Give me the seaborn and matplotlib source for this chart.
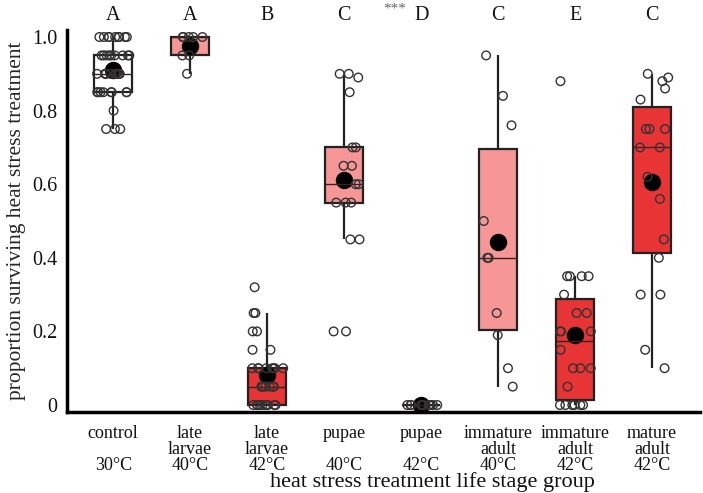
import numpy as np
import pandas as pd
import seaborn as sns
import matplotlib.pyplot as plt

# ---- data ----
group_labels = ["control\n\n30°C", "late\nlarvae\n40°C", "late\nlarvae\n42°C",
                "pupae\n\n40°C", "pupae\n\n42°C", "immature\nadult\n40°C",
                "immature\nadult\n42°C", "mature\nadult\n42°C"]
letters = ["A", "A", "B", "C", "D", "C", "E", "C"]

control_30 = [0.75, 0.75, 0.75, 0.8] + [0.85] * 8 + [0.9] * 10 + [0.95] * 9 + [1.0] * 9
late_larvae_40 = [0.9, 0.95, 0.95, 1.0, 1.0, 1.0, 1.0, 1.0]
late_larvae_42 = [0.0] * 10 + [0.05] * 8 + [0.1] * 8 + [0.15, 0.15, 0.2, 0.2, 0.25, 0.25, 0.32]
pupae_40 = [0.2, 0.2, 0.45, 0.45, 0.55, 0.55, 0.55, 0.6, 0.6, 0.65, 0.65, 0.7, 0.7,
            0.85, 0.89, 0.9, 0.9]
pupae_42 = [0.0] * 10
immature_adult_40 = [0.05, 0.1, 0.19, 0.25, 0.4, 0.4, 0.5, 0.76, 0.84, 0.95]
immature_adult_42 = [0.0] * 6 + [0.05, 0.1, 0.1, 0.1, 0.15, 0.2, 0.2, 0.2, 0.25, 0.25,
                                  0.3, 0.35, 0.35, 0.35, 0.35, 0.88]
mature_adult_42 = [0.1, 0.15, 0.3, 0.3, 0.4, 0.45, 0.56, 0.62, 0.7, 0.7, 0.75, 0.75,
                   0.75, 0.83, 0.86, 0.88, 0.89, 0.9]

series = [control_30, late_larvae_40, late_larvae_42, pupae_40, pupae_42,
          immature_adult_40, immature_adult_42, mature_adult_42]

LIGHT = "#F69696"
RED = "#E83434"
box_colors = ["#FFFFFF", LIGHT, RED, LIGHT, RED, LIGHT, RED, RED]

rows = []
for lab, vals in zip(group_labels, series):
    for v in vals:
        rows.append({"group": lab, "prop": v})
df = pd.DataFrame(rows)

# ---- figure ----
sns.set_style("white")
plt.rcParams["font.family"] = ["Liberation Serif", "DejaVu Serif"]

fig = plt.figure(figsize=(7.03, 4.93), dpi=100)
ax = fig.add_axes([0.0953, 0.1643, 0.9004, 0.7748])

sns.boxplot(data=df, x="group", y="prop", hue="group", order=group_labels,
            hue_order=group_labels, palette=box_colors, legend=False,
            width=0.5, showfliers=False, showcaps=False, linecolor="#222222",
            linewidth=1.6, saturation=1,
            medianprops=dict(color="#3a2020", linewidth=1.0), ax=ax)

n_before = len(ax.collections)
np.random.seed(3)
sns.stripplot(data=df, x="group", y="prop", order=group_labels, jitter=0.22,
              size=6.2, color="#333333", linewidth=1.0, edgecolor="#333333",
              ax=ax)
for coll in ax.collections[n_before:]:
    coll.set_facecolor("none")
    coll.set_edgecolor("#333333")
    coll.set_linewidth(1.0)

sns.pointplot(data=df, x="group", y="prop", order=group_labels, estimator="mean",
              errorbar=None, linestyle="none", marker="o", markersize=10.5,
              color="black", ax=ax)

ax.set_xlim(-0.6, 7.62)
ax.set_ylim(-0.019, 1.019)
ax.set_yticks([0, 0.2, 0.4, 0.6, 0.8, 1.0])
ax.set_yticklabels(["0", "0.2", "0.4", "0.6", "0.8", "1.0"], fontsize=14.5)
ax.set_xticks(range(len(group_labels)))
ax.set_xticklabels(group_labels, fontsize=13, linespacing=0.95)
ax.tick_params(axis="both", which="both", direction="out", length=3, width=1,
               color="#333333", labelcolor="#111111")
ax.tick_params(axis="x", pad=6)
ax.tick_params(axis="y", pad=4)

for s in ["top", "right"]:
    ax.spines[s].set_visible(False)
for s in ["left", "bottom"]:
    ax.spines[s].set_linewidth(2.5)
    ax.spines[s].set_color("black")

ax.set_xlabel("")
fig.text(432 / 703, 1 - 482 / 493, "heat stress treatment life stage group",
         fontsize=16, ha="center", va="center", color="#111111")
ax.set_ylabel("proportion surviving heat stress treatment", fontsize=15.5, labelpad=4)

for i, t in enumerate(letters):
    ax.text(i, 1.037, t, transform=ax.get_xaxis_transform(), ha="center",
            va="center", fontsize=14.5, color="#111111")
ax.text(3.66, 1.054, "***", transform=ax.get_xaxis_transform(), ha="center",
        va="center", fontsize=11, color="#666666")

fig.savefig("out.png", dpi=100)
